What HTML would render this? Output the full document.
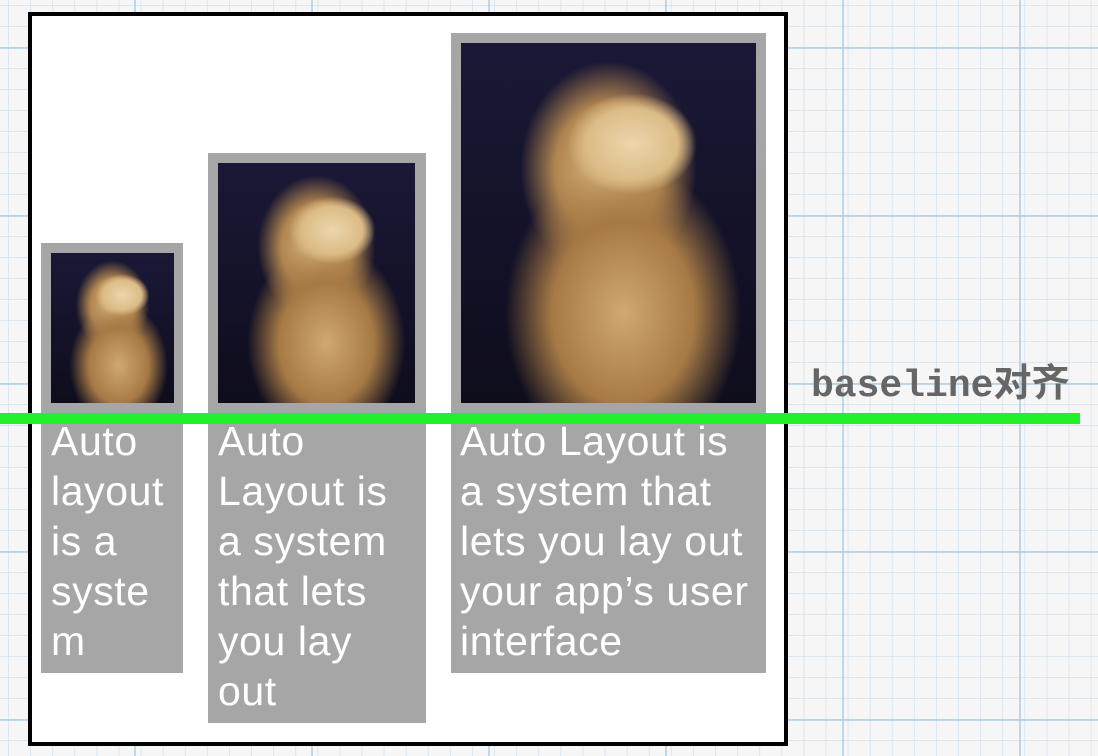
<!DOCTYPE html>
<html><head><meta charset="utf-8"><style>
html,body{margin:0;padding:0}
body{width:1098px;height:756px;position:relative;overflow:hidden;
background-color:#f6f6f7;
background-image:
linear-gradient(to right, rgba(170,205,230,.75) 2px, transparent 2px),
linear-gradient(to bottom, rgba(170,205,230,.75) 2px, transparent 2px),
linear-gradient(to right, rgba(190,215,235,.5) 1px, transparent 1px),
linear-gradient(to bottom, rgba(190,215,235,.5) 1px, transparent 1px);
background-size:177px 168px,177px 168px,22.1px 21px,22.1px 21px;
background-position:134px 47px,134px 47px,8px 5px,8px 5px;
font-family:"Liberation Sans",Arial,sans-serif}
.outer{position:absolute;left:28px;top:12px;width:752px;height:726px;border:4px solid #000;background:#fff}
.box{position:absolute;background:#a6a6a6}
.img{position:absolute;background:
radial-gradient(ellipse 22% 14% at 58% 28%, #ecd6ac 0%, #dcbc86 70%, transparent 100%),
radial-gradient(ellipse 40% 42% at 55% 75%, #d0a870 0%, #a77a45 60%, transparent 100%),
radial-gradient(ellipse 30% 30% at 50% 35%, #dcba84 0%, #b08550 60%, transparent 100%),
linear-gradient(#1a1836,#0e0d1c);}
.txt{position:absolute;color:#fff;font-size:41px;line-height:50px;white-space:nowrap;letter-spacing:0.6px}
.green{position:absolute;left:0;top:413px;width:1080px;height:11px;background:#22f02a}
.label{position:absolute;left:811px;top:352px;font-family:"Liberation Mono","Noto Sans CJK SC",monospace;font-weight:bold;font-size:38px;color:#666;white-space:nowrap}
</style></head><body>
<div class="outer"></div>
<div class="box" style="left:41px;top:243px;width:142px;height:430px"></div>
<div class="img" style="left:51px;top:253px;width:123px;height:150px"></div>
<div class="txt" style="left:51px;top:416px">Auto<br>layout<br>is a<br>syste<br>m</div>
<div class="box" style="left:208px;top:153px;width:218px;height:570px"></div>
<div class="img" style="left:218px;top:163px;width:197px;height:240px"></div>
<div class="txt" style="left:218px;top:416px">Auto<br>Layout is<br>a system<br>that lets<br>you lay<br>out</div>
<div class="box" style="left:451px;top:33px;width:315px;height:640px"></div>
<div class="img" style="left:461px;top:43px;width:295px;height:360px"></div>
<div class="txt" style="left:460px;top:416px">Auto Layout is<br>a system that<br>lets you lay out<br>your app’s user<br>interface</div>
<div class="green"></div>
<div class="label">baseline<span style="font-family:'Noto Sans CJK SC',sans-serif">对齐</span></div>
</body></html>
